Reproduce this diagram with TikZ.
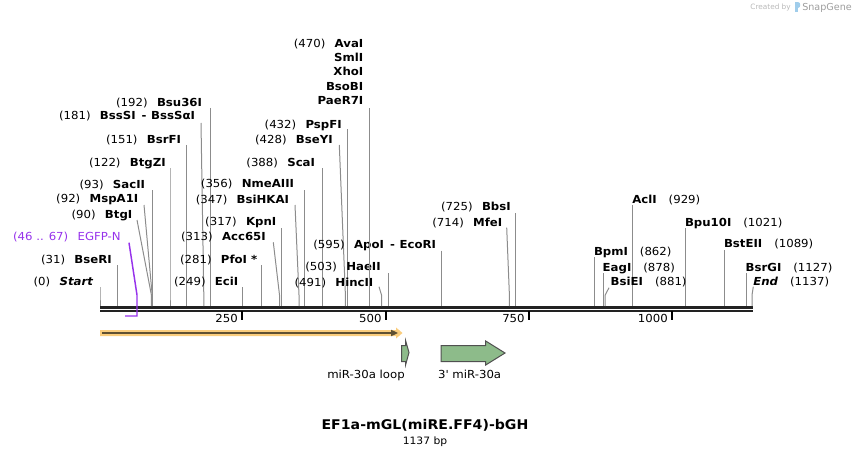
\documentclass[tikz,border=0pt]{standalone}
\usepackage{fontspec}
\setmainfont[FakeStretch=1.06]{DejaVu Sans}
\newfontfamily\logofont{DejaVu Sans}
\definecolor{cutgray}{RGB}{140,140,140}
\definecolor{bbone}{RGB}{34,34,34}
\definecolor{purp}{RGB}{150,50,235}
\definecolor{orglow}{RGB}{250,205,125}
\definecolor{ordark}{RGB}{95,80,50}
\definecolor{featgreen}{RGB}{141,187,138}
\definecolor{featedge}{RGB}{80,80,80}
\definecolor{logogray}{RGB}{185,185,185}
\definecolor{logoblue}{RGB}{160,205,235}
\tikzset{
  lbl/.style={font=\fontsize{8.3}{10}\selectfont, inner sep=0pt, outer sep=0pt},
  cut/.style={draw=cutgray, line width=0.75pt},
  ticklab/.style={font=\fontsize{8.3}{10}\selectfont, inner sep=0pt, anchor=base east},
  featlab/.style={font=\fontsize{8.3}{10}\selectfont, inner sep=0pt, anchor=base},
  feat/.style={fill=featgreen, draw=featedge, line width=0.75pt, line join=miter},
}
% left label: id, x right, baseline, number, name, x top, y top, site x
\newcommand\Lcut[8]{%
  \node[lbl,anchor=base east] (#1) at (#2,#3) {#4\hspace{7pt}\textbf{#5}};
  \coordinate (#1a) at (#6,#7);
  \coordinate (#1k) at (#8,295);
  \coordinate (#1b) at (#8,306);
  \draw[cut] (#1a) -- (#1k) -- (#1b);}
% right label: id, x left, baseline, name, number, x top, y top, site x
\newcommand\Rcut[8]{%
  \node[lbl,anchor=base west] (#1) at (#2,#3) {\textbf{#4}\hspace{9pt}#5};
  \coordinate (#1a) at (#6,#7);
  \coordinate (#1k) at (#8,295);
  \coordinate (#1b) at (#8,306);
  \draw[cut] (#1a) -- (#1k) -- (#1b);}
\begin{document}
\begin{tikzpicture}[x=0.75pt,y=-0.75pt]
\useasboundingbox (0,0) rectangle (852,456);

% logo
\node[font=\logofont\fontsize{5.5}{6}\selectfont, text=logogray, anchor=base east, inner sep=0pt] (createdby) at (791,9.5) {Created by};
\fill[logoblue] (794.5,2.5) rectangle (797.5,12.5);
\fill[logoblue] (797.5,2.5) .. controls (801,2.5) and (801,8) .. (797.5,8) -- cycle;
\node[font=\logofont\fontsize{7.2}{8}\selectfont, text=logogray!85!black, anchor=base west, inner sep=0pt] (snapgene) at (802,10.5) {SnapGene};

% backbone
\coordinate (bbL1) at (100,307.5);
\coordinate (bbR1) at (752.7,307.5);
\coordinate (bbL2) at (100,311);
\coordinate (bbR2) at (752.7,311);
\draw[bbone, line width=1.7pt] (bbL1) -- (bbR1);
\draw[bbone, line width=1.5pt] (bbL2) -- (bbR2);

% ticks
\foreach \tx/\tl in {242/250, 385.8/500, 528.9/750, 672/1000}{
  \draw[black, line width=1.5pt] (\tx,311) -- (\tx,320);
  \node[ticklab] (tick\tl) at (\tx-4,322.8) {\tl};
}

% left-side enzyme labels
\Lcut{bsu}{202}{106.3}{(192)}{Bsu36I}{210.1}{108}{210.1}
\Lcut{bss}{195}{119.7}{(181)}{BssSI\hspace{4.5pt}-\hspace{3.5pt}BssSαI}{201}{123}{203.8}
\Lcut{bsrf}{181}{143.3}{(151)}{BsrFI}{186.6}{145}{186.6}
\Lcut{btgz}{165.7}{166.3}{(122)}{BtgZI}{170}{168.3}{170}
\Lcut{sac}{145}{188.3}{(93)}{SacII}{152.8}{190}{152.8}
\Lcut{msp}{138.3}{202.3}{(92)}{MspA1I}{144}{205}{152.2}
\Lcut{btgi}{132.3}{218}{(90)}{BtgI}{137}{220}{151.4}
\Lcut{bse}{111.7}{263.3}{(31)}{BseRI}{117.8}{265}{117.8}
\Lcut{start}{93.3}{285.7}{(0)}{\textit{Start}}{100}{287.3}{100}
\Lcut{kpn}{276.3}{225.7}{(317)}{KpnI}{281.8}{228.3}{281.8}
\Lcut{acc}{265.7}{240.7}{(313)}{Acc65I}{273.3}{242.3}{279.5}
\Lcut{pfo}{257.3}{263}{(281)}{PfoI *}{261.1}{265}{261.1}
\Lcut{eci}{238.3}{285.7}{(249)}{EciI}{242.8}{287.3}{242.8}
\Lcut{sca}{315}{166.3}{(388)}{ScaI}{322.5}{168.3}{322.5}
\Lcut{nme}{294}{187.3}{(356)}{NmeAIII}{304.1}{190}{304.1}
\Lcut{bsih}{289}{203}{(347)}{BsiHKAI}{295}{205}{299}
\Lcut{psp}{341.7}{128}{(432)}{PspFI}{347.7}{129.3}{347.7}
\Lcut{bsey}{332.7}{143}{(428)}{BseYI}{339.3}{145}{345.4}
\Lcut{apo}{436}{248}{(595)}{ApoI\hspace{4.5pt}-\hspace{3.5pt}EcoRI}{441.2}{250.7}{441.2}
\Lcut{hae}{380.7}{270.7}{(503)}{HaeII}{388.4}{273.3}{388.4}
\Lcut{hinc}{373.3}{286.3}{(491)}{HincII}{379}{286.7}{381.5}
\Lcut{bbs}{510.7}{210}{(725)}{BbsI}{515.7}{213.3}{515.7}
\Lcut{mfe}{502.3}{226.3}{(714)}{MfeI}{506.7}{227.7}{509.4}

% AvaI group
\node[lbl,anchor=base east] (ava) at (363.3,47.3) {(470)\hspace{7pt}\textbf{AvaI}};
\node[lbl,anchor=base east] (sml) at (363.3,61.5) {\textbf{SmlI}};
\node[lbl,anchor=base east] (xho) at (363.3,75.9) {\textbf{XhoI}};
\node[lbl,anchor=base east] (bsob) at (363.3,90.5) {\textbf{BsoBI}};
\node[lbl,anchor=base east] (pae) at (363.3,104.9) {\textbf{PaeR7I}};
\coordinate (avaa) at (369.5,108.3);
\coordinate (avab) at (369.5,306);
\draw[cut] (avaa) -- (avab);

% right-side enzyme labels
\Rcut{acl}{632.3}{203}{AclI}{(929)}{632.7}{205}{632.7}
\Rcut{bpu}{685}{226.3}{Bpu10I}{(1021)}{685.4}{228.3}{685.4}
\Rcut{bste}{724}{247.3}{BstEII}{(1089)}{724.4}{250}{724.4}
\Rcut{bpm}{594}{255.7}{BpmI}{(862)}{594.3}{257.3}{594.3}
\Rcut{eag}{602.7}{271.3}{EagI}{(878)}{603.5}{273.3}{603.5}
\Rcut{bsie}{610.7}{285}{BsiEI}{(881)}{609}{287.7}{605.2}
\Rcut{bsrg}{745.7}{271.3}{BsrGI}{(1127)}{746.2}{273.3}{746.2}
\Rcut{endl}{753.3}{285}{\textit{End}}{(1137)}{753.3}{286.7}{752}

% EGFP-N feature bracket
\node[lbl,anchor=base east, text=purp] (egfp) at (120.7,240.7) {(46 .. 67)\hspace{7pt}EGFP-N};
\coordinate (egfpa) at (129,242.7);
\coordinate (egfpk) at (137,295);
\coordinate (egfpe) at (137,316);
\coordinate (egfps) at (125,316);
\draw[purp, line width=1.1pt] (egfpa) -- (egfpk) -- (egfpe) -- (egfps);

% orange arrow
\fill[orglow] (100,330) -- (396,330) -- (396,327.5) -- (402.5,333) -- (396,338.5) -- (396,336) -- (100,336) -- cycle;
\coordinate (orA) at (102,333);
\coordinate (orB) at (392,333);
\draw[ordark, line width=1.5pt] (orA) -- (orB);
\fill[ordark] (391,329.7) -- (398,333) -- (391,336.3) -- cycle;

% miR-30a loop
\draw[feat] (401.7,345.7) -- (405.7,345.7) -- (405.7,341) -- (409,352.5) -- (405.7,364.5) -- (405.7,361.7) -- (401.7,361.7) -- cycle;
\node[featlab] (looplab) at (366,378.3) {miR-30a loop};

% 3' miR-30a
\draw[feat] (441,345.7) -- (485.7,345.7) -- (485.7,341) -- (505,353) -- (485.7,365) -- (485.7,361.7) -- (441,361.7) -- cycle;
\node[featlab] (mirlab) at (469.7,378.3) {3\textquotesingle{} miR-30a};

% title
\node[font=\bfseries\fontsize{10}{11}\selectfont, inner sep=0pt, anchor=base] (title) at (425,429.5) {EF1a-mGL(miRE.FF4)-bGH};
\node[font=\fontsize{7.6}{9}\selectfont, inner sep=0pt, anchor=base] (bp) at (425,444.5) {1137 bp};
\end{tikzpicture}
\end{document}
